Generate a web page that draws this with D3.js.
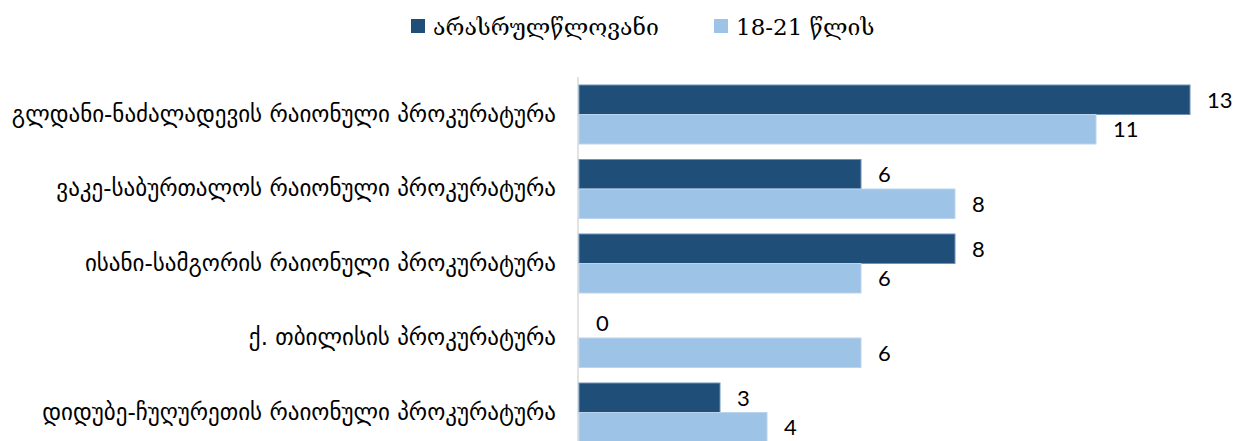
<!DOCTYPE html>
<html><head><meta charset="utf-8">
<script src="https://cdn.jsdelivr.net/npm/d3@7"></script>
<style>body{margin:0;background:#fff;}</style>
</head><body>
<svg id="c" width="1236" height="441"></svg>
<script>
const categories = [
  "გლდანი-ნაძალადევის რაიონული პროკურატურა",
  "ვაკე-საბურთალოს რაიონული პროკურატურა",
  "ისანი-სამგორის რაიონული პროკურატურა",
  "ქ. თბილისის პროკურატურა",
  "დიდუბე-ჩუღურეთის რაიონული პროკურატურა"
];
const seriesNames = ["არასრულწლოვანი", "18-21 წლის"];
const minors = [13, 6, 8, 0, 3];
const youth = [11, 8, 6, 6, 4];
const colors = ["#1f4e79", "#9dc3e6"];

const svg = d3.select("#c");
const x = d3.scaleLinear().domain([0, 13]).range([579, 1190]);
const y = d3.scaleBand().domain(categories).range([77.25, 449.75]).paddingInner(0.208).paddingOuter(0.104);
const sub = d3.scaleBand().domain([0, 1]).range([0, y.bandwidth()]);

// axis line
svg.append("line").attr("x1", 578).attr("x2", 578).attr("y1", 77).attr("y2", 441)
  .attr("stroke", "#d9d9d9").attr("stroke-width", 1.5);

const series = [minors, youth];
series.forEach((vals, si) => {
  const g = svg.append("g");
  g.selectAll("rect").data(categories).join("rect")
    .attr("x", x(0))
    .attr("y", (d) => y(d) + sub(si))
    .attr("width", (d, i) => Math.max(0, x(vals[i]) - x(0)))
    .attr("height", sub.bandwidth())
    .attr("fill", colors[si])
    .attr("stroke", si === 0 ? "#6f93b8" : "#bcd5ee")
    .attr("stroke-width", (d, i) => vals[i] > 0 ? 1 : 0);
  g.selectAll("text").data(categories).join("text")
    .attr("x", (d, i) => x(vals[i]) + 17)
    .attr("y", (d) => y(d) + sub(si) + sub.bandwidth() / 2 + 8)
    .attr("font-family", "Lato, 'Open Sans', sans-serif")
    .attr("font-size", 22)
    .attr("fill", "#000")
    .text((d, i) => vals[i]);
});

// category labels
svg.append("g").selectAll("text").data(categories).join("text")
  .attr("x", 556)
  .attr("y", (d) => y(d) + y.bandwidth() / 2 + 7)
  .attr("text-anchor", "end")
  .attr("font-family", "'DejaVu Sans', sans-serif")
  .attr("font-size", 23)
  .attr("fill", "#000")
  .text((d) => d);

// legend
const legendX = [411, 714];
seriesNames.forEach((n, i) => {
  svg.append("rect").attr("x", legendX[i]).attr("y", 19).attr("width", 14).attr("height", 14)
    .attr("fill", colors[i]);
  svg.append("text").attr("x", legendX[i] + 22).attr("y", 35)
    .attr("font-family", "'DejaVu Serif', 'Liberation Serif', serif")
    .attr("font-size", 23)
    .attr("fill", "#000")
    .text(n);
});
</script>
</body></html>
